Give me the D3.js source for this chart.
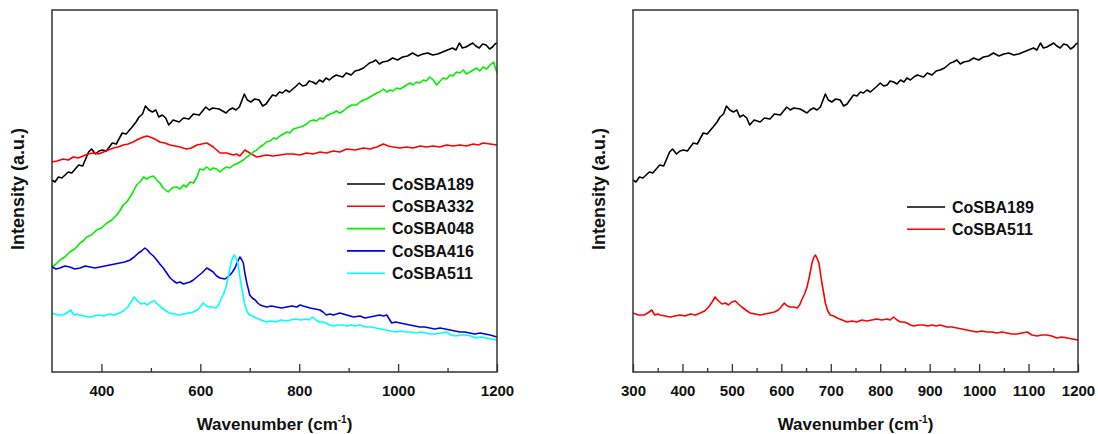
<!doctype html>
<html lang=en>
<head>
  <meta charset=utf-8>
  <title>Raman spectra CoSBA</title>
  <style>
    html, body { margin: 0; padding: 0; background: #fff; }
    svg { display: block; font-family: "Liberation Sans", Arial, sans-serif; }
    .tick text { font-size: 15px; font-weight: bold; fill: #111; }
    .tick line { stroke: #333; stroke-width: 1.3; }
    .frame { fill: none; stroke: #333; stroke-width: 1.5; }
    .curve { fill: none; stroke-width: 1.6; stroke-linejoin: round; }
    .label { font-weight: bold; fill: #111; }
  </style>
  <script src="https://cdn.jsdelivr.net/npm/d3@7"></script>
</head>
<body>
<svg id=chart width=1098 height=434></svg>
<script>
  // spectra, [wavenumber, intensity (a.u.)]
  const coSBA189 = [[300,192],[306,190],[313,195],[320,194],[333,200],[340,199],[354,207],[362,206],[374,220],[380,223],[388,218],[395,221],[402,222],[410,221],[422,229],[430,228],[442,239],[450,238],[462,245],[470,250],[476,255],[483,258],[489,266],[496,262],[503,260],[510,262],[516,255],[523,257],[530,254],[536,247],[545,252],[557,250],[566,254],[577,253],[586,258],[598,257],[611,265],[618,262],[625,264],[638,263],[645,261],[652,259],[658,262],[665,264],[672,262],[679,265],[689,278],[695,272],[702,270],[710,273],[719,272],[726,266],[733,268],[740,273],[746,277],[753,276],[760,280],[766,279],[773,282],[780,280],[787,283],[794,286],[800,289],[807,286],[814,287],[820,291],[827,290],[834,288],[841,292],[848,290],[854,294],[861,292],[868,295],[875,297],[881,296],[888,295],[895,299],[905,297],[913,301],[921,302],[930,304],[942,309],[948,310],[955,312],[962,308],[969,310],[979,311],[989,314],[999,312],[1009,315],[1019,316],[1029,319],[1040,316],[1050,318],[1060,319],[1070,317],[1080,318],[1090,320],[1100,322],[1110,324],[1117,322],[1124,329],[1130,324],[1137,325],[1144,327],[1151,329],[1157,326],[1164,324],[1171,328],[1178,327],[1185,323],[1191,325],[1196,328],[1200,329]]
  const coSBA332 = [[300,210],[310,211],[323,213],[333,212],[343,215],[353,214],[363,216],[373,218],[384,219],[394,218],[404,220],[414,222],[424,224],[434,225],[444,227],[454,228],[464,230],[475,233],[485,235],[492,236],[498,235],[508,233],[518,230],[528,229],[539,227],[549,226],[559,225],[565,224],[572,223],[582,224],[593,227],[603,228],[613,229],[620,227],[626,225],[633,222],[640,219],[653,219],[660,218],[667,217],[673,218],[680,216],[690,222],[700,219],[707,217],[714,215],[724,216],[734,217],[747,216],[761,217],[774,218],[788,218],[801,217],[815,219],[828,218],[842,220],[855,219],[869,221],[882,220],[896,223],[913,222],[930,224],[943,223],[957,225],[970,228],[980,226],[990,225],[1004,224],[1017,225],[1030,224],[1044,226],[1057,225],[1071,226],[1084,225],[1098,227],[1111,226],[1125,227],[1138,226],[1152,228],[1162,227],[1172,229],[1186,228],[1200,227]]
  const coSBA048 = [[300,105],[308,108],[316,112],[326,115],[336,120],[346,123],[357,129],[363,131],[370,135],[380,137],[390,142],[400,144],[411,149],[421,152],[431,157],[437,161],[444,167],[451,170],[458,175],[464,180],[471,187],[478,190],[485,195],[491,193],[498,195],[505,196],[512,192],[518,189],[525,184],[535,180],[543,184],[552,185],[559,183],[566,187],[572,185],[579,190],[586,189],[593,195],[599,203],[606,202],[613,205],[620,202],[626,204],[633,203],[640,200],[646,203],[653,205],[660,204],[667,207],[673,208],[680,210],[687,212],[694,215],[700,217],[707,220],[714,222],[721,225],[727,227],[734,230],[741,231],[748,234],[754,233],[761,236],[768,238],[775,240],[781,239],[788,243],[795,244],[802,245],[808,246],[815,248],[822,251],[829,252],[835,251],[842,254],[848,253],[855,256],[862,258],[869,259],[875,261],[882,259],[889,261],[896,264],[906,267],[916,267],[923,270],[930,272],[936,273],[943,275],[950,277],[957,279],[963,280],[970,283],[977,280],[984,282],[990,281],[997,284],[1004,283],[1011,285],[1017,287],[1024,289],[1030,287],[1037,290],[1044,289],[1051,292],[1057,291],[1064,295],[1071,292],[1078,287],[1085,291],[1091,294],[1098,293],[1105,297],[1111,296],[1118,300],[1125,299],[1132,302],[1138,298],[1145,300],[1152,302],[1159,304],[1165,301],[1172,305],[1179,303],[1186,307],[1193,310],[1200,299]]
  const coSBA416 = [[300,105],[308,103],[316,104],[326,106],[336,105],[346,103],[357,104],[367,106],[377,105],[387,104],[397,105],[407,106],[417,107],[427,108],[437,109],[447,110],[458,112],[466,115],[475,119],[481,121],[488,124],[493,122],[498,119],[505,116],[512,112],[518,108],[525,104],[532,99],[539,94],[546,91],[552,89],[559,90],[566,88],[572,89],[579,90],[586,92],[593,95],[603,99],[613,104],[620,102],[626,100],[633,96],[640,94],[650,93],[655,95],[660,97],[665,100],[670,104],[675,110],[680,115],[684,112],[687,109],[690,99],[694,89],[700,77],[705,74],[711,72],[716,69],[721,67],[727,66],[734,65],[744,66],[754,65],[764,64],[775,65],[785,66],[795,65],[802,67],[808,66],[815,65],[822,64],[832,63],[842,62],[848,60],[855,57],[862,58],[869,57],[876,58],[882,59],[889,58],[896,57],[910,55],[923,56],[933,54],[943,55],[953,56],[963,57],[970,56],[977,57],[982,53],[987,49],[995,50],[1004,49],[1014,48],[1024,47],[1034,46],[1044,45],[1054,45],[1064,44],[1074,43],[1085,44],[1095,43],[1105,42],[1115,41],[1125,40],[1135,40],[1145,39],[1155,38],[1166,39],[1176,38],[1186,37],[1193,36],[1200,35]]
  const coSBA511 = [[300,59],[311,57],[322,57],[330,59],[338,62],[344,57],[350,58],[355,57],[365,56],[375,55],[385,56],[395,57],[405,56],[416,58],[426,57],[436,59],[445,61],[453,65],[460,70],[466,75],[473,71],[480,68],[487,69],[493,67],[500,70],[507,71],[513,68],[520,65],[528,62],[537,59],[547,58],[557,57],[567,58],[577,59],[586,60],[594,62],[598,64],[606,69],[612,66],[618,65],[625,65],[632,64],[637,67],[642,73],[647,78],[652,85],[657,96],[662,109],[666,115],[669,117],[672,114],[676,109],[679,99],[682,89],[686,78],[689,69],[694,61],[699,57],[706,56],[713,54],[723,52],[733,50],[743,51],[753,50],[763,52],[773,51],[783,52],[793,53],[803,52],[814,53],[820,52],[827,55],[834,52],[841,50],[848,50],[854,49],[861,47],[868,46],[878,47],[888,47],[896,46],[905,47],[913,46],[921,47],[928,46],[935,45],[945,45],[955,44],[965,43],[975,42],[985,41],[995,40],[1005,41],[1016,40],[1026,40],[1036,39],[1046,40],[1056,39],[1066,38],[1076,38],[1087,39],[1097,40],[1107,37],[1117,36],[1127,37],[1137,37],[1147,36],[1157,34],[1167,35],[1178,34],[1189,33],[1200,32]]

  const leftNames = ['CoSBA189', 'CoSBA332', 'CoSBA048', 'CoSBA416', 'CoSBA511']
  const leftColors = ['#000000', '#ff0000', '#00ee00', '#0000ee', '#00ffff']
  const leftSeries = [coSBA189, coSBA332, coSBA048, coSBA416, coSBA511]

  const rightNames = ['CoSBA189', 'CoSBA511']
  const rightColors = ['#000000', '#ff0000']
  const rightSeries = [coSBA189, coSBA511]

  const leftMajor = [400, 600, 800, 1000, 1200]
  const leftMinor = [500, 700, 900, 1100]
  const rightMajor = [300, 400, 500, 600, 700, 800, 900, 1000, 1100, 1200]
  const rightMinor = [350, 450, 550, 650, 750, 850, 950, 1050, 1150]

  const plotTop = 10
  const plotBottom = 372
  const svg = d3.select('#chart')

  function panel(left, right, names, colors, series, major, minor, legend) {
    const g = svg.append('g')
    const x = d3.scaleLinear().domain([300, 1200]).range([left, right])
    const y = d3.scaleLinear().domain([0, plotBottom - plotTop]).range([plotBottom, plotTop])

    const line = d3.line()
      .x(d => x(d[0]))
      .y(d => y(d[1]))

    series.forEach((s, i) => {
      g.append('path')
        .attr('class', 'curve')
        .attr('stroke', colors[i])
        .datum(s)
        .attr('d', line)
    })

    const gx = g.append('g')
      .attr('transform', 'translate(0,' + plotBottom + ')')
      .call(d3.axisBottom(x).tickValues(major).tickSize(-8).tickPadding(13).tickFormat(d3.format('d')))
    gx.select('.domain').remove()
    const gm = g.append('g')
      .attr('transform', 'translate(0,' + plotBottom + ')')
      .call(d3.axisBottom(x).tickValues(minor).tickSize(-4).tickFormat(''))
    gm.select('.domain').remove()

    g.append('rect')
      .attr('class', 'frame')
      .attr('x', left)
      .attr('y', plotTop)
      .attr('width', right - left)
      .attr('height', plotBottom - plotTop)

    const title = g.append('text')
      .attr('class', 'label')
      .attr('x', (left + right) / 2)
      .attr('y', 430)
      .attr('text-anchor', 'middle')
      .style('font-size', '17px')
    title.append('tspan').text('Wavenumber (cm')
    title.append('tspan').attr('dy', -7).style('font-size', '10px').text('-1')
    title.append('tspan').attr('dy', 7).text(')')

    g.append('text')
      .attr('class', 'label')
      .attr('transform', 'translate(' + (left - 34) + ',189) rotate(-90)')
      .attr('text-anchor', 'middle')
      .attr('dy', '0.35em')
      .style('font-size', '18px')
      .text('Intensity (a.u.)')

    const lg = g.append('g')
    names.forEach((name, i) => {
      const ly = legend.y + i * 22.3
      lg.append('line')
        .attr('x1', legend.x).attr('x2', legend.x + 38)
        .attr('y1', ly).attr('y2', ly)
        .attr('stroke', colors[i])
        .attr('stroke-width', 1.6)
      lg.append('text')
        .attr('class', 'label')
        .attr('x', legend.x + 45)
        .attr('y', ly)
        .attr('dy', '0.36em')
        .style('font-size', '16px')
        .text(name)
    })
  }

  panel(52, 497, leftNames, leftColors, leftSeries, leftMajor, leftMinor, { x: 347, y: 184 })
  panel(633, 1078, rightNames, rightColors, rightSeries, rightMajor, rightMinor, { x: 907, y: 207 })
</script>
</body>
</html>
